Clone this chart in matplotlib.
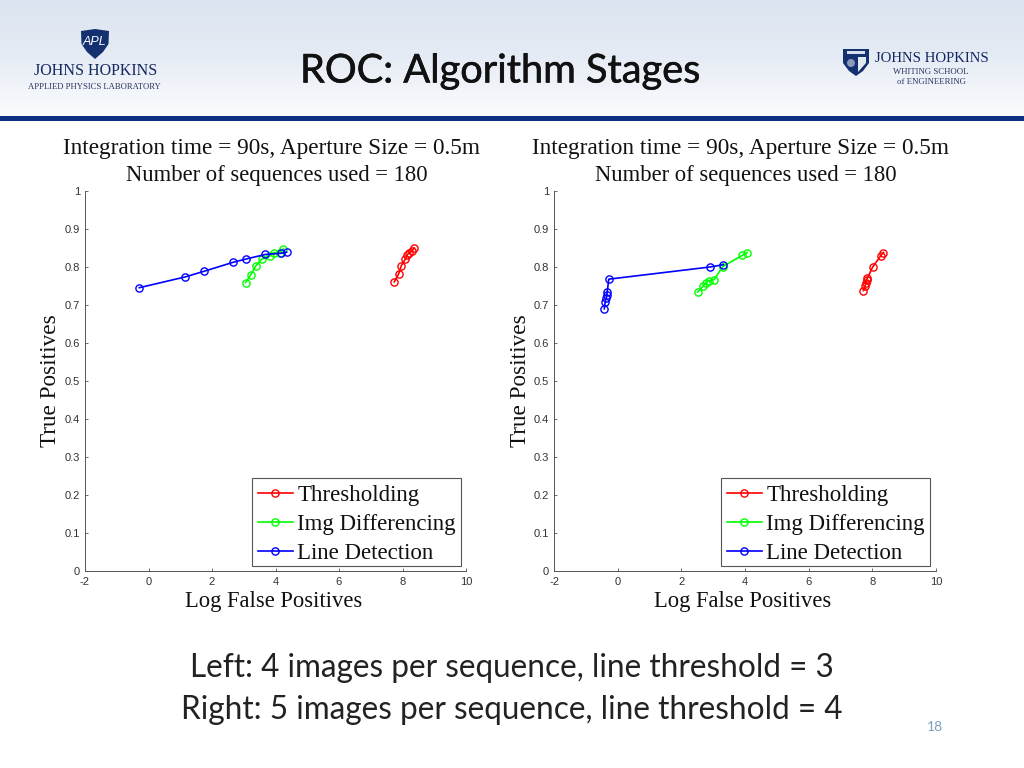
import numpy as np
from matplotlib import pyplot as plt
from matplotlib.colors import LinearSegmentedColormap
from matplotlib.patches import Polygon, Rectangle, Circle
from matplotlib import patheffects

W, H = 1024, 768
SERIF = 'Liberation Serif'
SANS = 'Liberation Sans'
plt.rcParams['axes.unicode_minus'] = False

# values
left_thresh_x = [7.74, 7.88, 7.96, 8.09, 8.15, 8.21, 8.29, 8.37]
left_thresh_y = [0.761, 0.782, 0.803, 0.821, 0.832, 0.838, 0.841, 0.850]
left_diff_x = [3.06, 3.22, 3.38, 3.56, 3.83, 3.95, 4.14, 4.25]
left_diff_y = [0.759, 0.779, 0.803, 0.820, 0.829, 0.838, 0.838, 0.848]
left_line_x = [-0.29, 1.16, 1.76, 2.65, 3.07, 3.68, 4.17, 4.35]
left_line_y = [0.7455, 0.774, 0.789, 0.812, 0.821, 0.833, 0.836, 0.839]

# values
right_thresh_x = [7.72, 7.77, 7.80, 7.82, 7.84, 8.01, 8.27, 8.35]
right_thresh_y = [0.738, 0.750, 0.759, 0.766, 0.770, 0.800, 0.830, 0.838]
right_diff_x = [2.51, 2.69, 2.77, 2.86, 3.03, 3.30, 3.92, 4.07]
right_diff_y = [0.734, 0.750, 0.757, 0.764, 0.767, 0.801, 0.831, 0.838]
right_line_x = [-0.42, -0.39, -0.36, -0.34, -0.33, -0.28, 2.90, 3.32]
right_line_y = [0.690, 0.709, 0.718, 0.726, 0.733, 0.768, 0.800, 0.806]

x_ticks = [-2, 0, 2, 4, 6, 8, 10]
y_ticks = [0, 0.1, 0.2, 0.3, 0.4, 0.5, 0.6, 0.7, 0.8, 0.9, 1]
y_tick_labels = ['0', '0.1', '0.2', '0.3', '0.4', '0.5', '0.6', '0.7', '0.8', '0.9', '1']


# pixel box (from the top left of the slide) to figure coordinates
def fig_box(x0, y0, x1, y1):
    return [x0 / W, 1 - y1 / H, (x1 - x0) / W, (y1 - y0) / H]


def draw_panel(fig, x0, x1, thresh, diff, line):
    ax = fig.add_axes(fig_box(x0, 191, x1, 571))
    wid = x1 - x0
    for (xs, ys), col, name in [(thresh, '#ff0000', 'Thresholding'),
                                (diff, '#00ff00', 'Img Differencing'),
                                (line, '#0000ff', 'Line Detection')]:
        ax.plot(xs, ys, '-o', color=col, lw=1.2, ms=5.2, mfc='none', mew=1.0, label=name)

    ax.set_xlim(-2, 10)
    ax.set_ylim(0, 1)
    ax.set_xticks(x_ticks)
    ax.set_yticks(y_ticks)
    ax.set_yticklabels(y_tick_labels)
    ax.tick_params(direction='in', length=2.5, width=0.6, color='#555555', labelcolor='#333333', labelsize=8)
    ax.tick_params(axis='x', pad=4.5)
    ax.tick_params(axis='y', pad=3.5)
    for lab in ax.get_xticklabels() + ax.get_yticklabels():
        lab.set_family(SANS)
    ax.spines['top'].set_visible(False)
    ax.spines['right'].set_visible(False)
    for side in ['left', 'bottom']:
        ax.spines[side].set_linewidth(0.7)
        ax.spines[side].set_color('#555555')

    ax.set_xlabel('Log False Positives', family=SERIF, fontsize=16.3, color='#111111', va='center')
    ax.xaxis.set_label_coords(189 / wid, -31 / 380)
    ax.set_ylabel('True Positives', family=SERIF, fontsize=16.7, color='#111111', va='center')
    ax.yaxis.set_label_coords(-34 / wid, 0.5)

    # the two title lines are not quite centred on each other in the original
    ax.text(186.5 / wid, 42.5 / 380 + 1, 'Integration time = 90s, Aperture Size = 0.5m', transform=ax.transAxes,
            family=SERIF, fontsize=16.75, color='#111111', ha='center', va='center')
    ax.text(192 / wid, 15.5 / 380 + 1, 'Number of sequences used = 180', transform=ax.transAxes,
            family=SERIF, fontsize=16.3, color='#111111', ha='center', va='center')

    # legend box spans x 251-461, y 478-566 in the left panel, text sits a bit lower than matplotlib puts it
    ax.add_patch(Rectangle((167 / wid, 5 / 380), 209 / wid, 88 / 380, transform=ax.transAxes, fc='white',
                           ec='#555555', lw=0.8, zorder=4))
    leg = ax.legend(loc='lower left', bbox_to_anchor=(167 / wid, 1.5 / 380, 209 / wid, 88 / 380),
                    mode='expand', borderaxespad=0, frameon=False, handlelength=1.53,
                    handletextpad=0.18, borderpad=0.26, labelspacing=0.33,
                    prop={'family': SERIF, 'size': 16.5})
    for t in leg.get_texts():
        t.set_color('#111111')
    return ax


fig = plt.figure(figsize=(W / 100, H / 100), dpi=100, facecolor='white')

# header band with a soft gradient
bg = fig.add_axes([0, 0, 1, 1], zorder=-1)
grad = np.linspace(0, 1, 116).reshape(-1, 1)
bg.imshow(grad, extent=(0, W, 116, 0), aspect='auto',
          cmap=LinearSegmentedColormap.from_list('head', ['#dbe4f0', '#e6ecf5', '#fbfcfe']))
bg.set_xlim(0, W)
bg.set_ylim(H, 0)
bg.axis('off')
bg.add_patch(Rectangle((0, 116), W, 5, color='#0f2f80', lw=0))

# APL logo
NAVY = '#14285f'
bg.add_patch(Polygon([(81, 31), (95, 29), (109, 31), (108.5, 44), (103, 52), (95, 59), (87, 52), (81.5, 44)],
                     color='#14306f', lw=0))
bg.text(95, 42, 'APL', color='white', fontsize=9, style='italic', family=SANS, ha='center', va='center')
bg.text(95.5, 71, 'JOHNS HOPKINS', color=NAVY, fontsize=11.5, family=SERIF, ha='center', va='center')
bg.text(94.5, 87, 'APPLIED PHYSICS LABORATORY', color='#2a3560', fontsize=6.25, family=SERIF, ha='center', va='center')

# Whiting school logo
bg.add_patch(Polygon([(843, 49), (869, 49), (869, 63), (863, 71), (856, 76), (849, 71), (843, 63)],
                     color='#14306f', lw=0))
bg.add_patch(Rectangle((847, 51), 18, 3, color='#d8dfec', lw=0))
bg.add_patch(Circle((851, 63), 4, color='#8a9ab8', lw=0))
bg.add_patch(Polygon([(858, 57), (866, 57), (866, 63), (858, 72)], color='#e4e8f0', lw=0))
bg.text(931.5, 59, 'JOHNS HOPKINS', color=NAVY, fontsize=10.6, family=SERIF, ha='center', va='center')
bg.text(931, 72, 'WHITING SCHOOL', color='#2a3560', fontsize=6.3, family=SERIF, ha='center', va='center')
bg.text(931.5, 82, 'of ENGINEERING', color='#2a3560', fontsize=6.3, family=SERIF, ha='center', va='center')

# slide text
bg.text(500, 71, 'ROC: Algorithm Stages', family='Lato', fontsize=28.6, color='#111111', ha='center', va='center',
        path_effects=[patheffects.withStroke(linewidth=0.4, foreground='#111111')])
bg.text(512, 668, 'Left: 4 images per sequence, line threshold = 3', family='Lato', fontsize=22.7,
        color='#222222', ha='center', va='center')
bg.text(512, 710, 'Right: 5 images per sequence, line threshold = 4', family='Lato', fontsize=22.7,
        color='#222222', ha='center', va='center')
bg.text(935, 727, '18', family='Lato', fontsize=10, color='#7f9fc0', ha='center', va='center')

draw_panel(fig, 85, 466, (left_thresh_x, left_thresh_y), (left_diff_x, left_diff_y), (left_line_x, left_line_y))
draw_panel(fig, 554, 936, (right_thresh_x, right_thresh_y), (right_diff_x, right_diff_y), (right_line_x, right_line_y))

fig.savefig('out.png', dpi=100)
